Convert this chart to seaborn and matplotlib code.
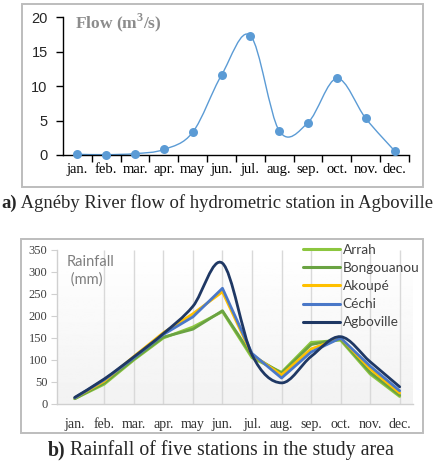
import numpy as np
import pandas as pd
import matplotlib
matplotlib.use("Agg")
import matplotlib.pyplot as plt
import seaborn as sns
from matplotlib.path import Path
from matplotlib.patches import PathPatch, Rectangle
from matplotlib.lines import Line2D

# data
months = ["jan.", "feb.", "mar.", "apr.", "may", "jun.", "jul.", "aug.", "sep.", "oct.", "nov.", "dec."]
flow = [0.1, 0.05, 0.2, 0.8, 3.3, 11.6, 17.3, 3.5, 4.7, 11.1, 5.3, 0.6]

stations = ["Arrah", "Bongouanou", "Akoupé", "Céchi", "Agboville"]
rain_arrah = [12, 45, 100, 150, 175, 210, 105, 72, 140, 145, 68, 17]
rain_bongouanou = [12, 48, 102, 152, 170, 212, 110, 70, 135, 148, 72, 20]
rain_akoupe = [14, 52, 108, 162, 205, 255, 112, 66, 125, 150, 80, 25]
rain_cechi = [14, 55, 105, 158, 198, 263, 115, 59, 118, 150, 86, 30]
rain_agboville = [15, 57, 107, 160, 222, 320, 112, 48, 108, 153, 96, 39]

station_colors = ["#8CC63F", "#6AA342", "#FFC000", "#4A78C8", "#1F3864"]

SERIF = "Liberation Serif"
SANS = "Lato"


def smooth_path(x, y):
    # Excel-like smoothed line: cubic bezier through every point
    n = len(x)
    verts = [(x[0], y[0])]
    codes = [Path.MOVETO]
    for i in range(n - 1):
        a = max(i - 1, 0)
        b = min(i + 2, n - 1)
        c1 = (x[i] + (x[i + 1] - x[a]) / 6, y[i] + (y[i + 1] - y[a]) / 6)
        c2 = (x[i + 1] - (x[b] - x[i]) / 6, y[i + 1] - (y[b] - y[i]) / 6)
        verts += [c1, c2, (x[i + 1], y[i + 1])]
        codes += [Path.CURVE4] * 3
    return Path(verts, codes)


def main():
    sns.set_theme(style="white")
    plt.rcParams["font.family"] = [SERIF, "DejaVu Sans"]

    W, H = 435, 475
    fig = plt.figure(figsize=(W / 100, H / 100), dpi=100)

    def fx(px):
        return px / W

    def fy(py):
        return 1 - py / H

    # panel frames
    for (x0, y0, x1, y1) in [(22, 4, 423, 187), (21, 239, 423, 433)]:
        fig.patches.append(Rectangle((fx(x0), fy(y1)), fx(x1 - x0), (y1 - y0) / H,
                                     transform=fig.transFigure, fill=False,
                                     edgecolor="#BDBDBD", linewidth=1.4))

    idx = np.arange(len(months))

    # ---------- a) flow ----------
    ax1 = fig.add_axes([fx(63), fy(155), fx(409 - 63), (155 - 17) / H])
    ax1.set_facecolor("none")
    blue = "#5B9BD5"
    ax1.add_patch(PathPatch(smooth_path(idx, np.array(flow)), fill=False,
                            edgecolor=blue, linewidth=1.0, zorder=2))
    sns.scatterplot(x=idx, y=flow, ax=ax1, color=blue, s=42, edgecolor=blue,
                    linewidth=0, zorder=3, clip_on=False)
    ax1.set_xlim(-0.5, 11.5)
    ax1.set_ylim(0, 20)
    ax1.set_yticks([0, 5, 10, 15, 20])
    ax1.set_yticklabels(["0", "5", "10", "15", "20"], family="Liberation Sans", fontsize=10.5)
    ax1.set_xticks(idx)
    ax1.set_xticklabels(months, fontsize=10.5, family=SERIF)
    ax1.set_xticks(np.arange(0.5, 12, 1), minor=True)
    ax1.tick_params(axis="x", which="major", length=0, pad=6, colors="black")
    ax1.tick_params(axis="x", which="minor", length=5, width=1, color="black", direction="out", bottom=True)
    ax1.tick_params(axis="y", length=5, width=1, color="black", direction="out", left=True, pad=6)
    for s in ["top", "right"]:
        ax1.spines[s].set_visible(False)
    for s in ["left", "bottom"]:
        ax1.spines[s].set_color("black")
        ax1.spines[s].set_linewidth(1.0)
    ax1.text(0.035, 0.955, "Flow (m$^\\mathregular{3}$/s)", transform=ax1.transAxes,
             fontsize=12.5, fontweight="bold", color="#8C8C8C", va="center", ha="left",
             family=SERIF)
    ax1.set_xlabel("")
    ax1.set_ylabel("")

    # ---------- b) rainfall ----------
    ax2 = fig.add_axes([fx(57), fy(404), fx(413 - 57), (404 - 250) / H])
    grad = np.linspace(1.0, 0.95, 100).reshape(-1, 1)
    ax2.imshow(grad, cmap="gray", vmin=0, vmax=1, aspect="auto",
               extent=[0, 1, 0, 1], transform=ax2.transAxes, zorder=0)
    ax2.vlines(idx[1:], 0, 350, color="#D9D9D9", linewidth=1.0, zorder=1)

    series = [rain_arrah, rain_bongouanou, rain_akoupe, rain_cechi, rain_agboville]
    df = pd.DataFrame({
        "month": np.tile(idx, 4),
        "rain": np.concatenate(series[:4]),
        "station": np.repeat(stations[:4], len(months)),
    })
    sns.lineplot(data=df, x="month", y="rain", hue="station", hue_order=stations[:4],
                 palette=station_colors[:4], linewidth=2.0, ax=ax2, legend=False,
                 sort=False, zorder=3)
    ax2.add_patch(PathPatch(smooth_path(idx, np.array(rain_agboville, dtype=float)),
                            fill=False, edgecolor=station_colors[4], linewidth=2.0,
                            capstyle="round", zorder=4))

    ax2.set_xlim(-0.6, 11.45)
    ax2.set_ylim(0, 350)
    ax2.set_yticks(np.arange(0, 351, 50))
    ax2.set_yticklabels([str(v) for v in range(0, 351, 50)], fontsize=9, color="#404040", family=SERIF)
    ax2.set_xticks(idx)
    ax2.set_xticklabels(months, fontsize=10, color="#333333", family=SERIF)
    ax2.tick_params(axis="x", length=0, pad=10)
    ax2.tick_params(axis="y", length=4, width=0.8, color="#D0D0D0", direction="out", left=True, pad=3)
    for s in ["top", "right"]:
        ax2.spines[s].set_visible(False)
    for s in ["left", "bottom"]:
        ax2.spines[s].set_color("#D0D0D0")
        ax2.spines[s].set_linewidth(1.0)
    ax2.set_xlabel("")
    ax2.set_ylabel("")
    ax2.text(0.028, 0.965, "Rainfall\n (mm)", transform=ax2.transAxes, fontsize=10.5,
             color="#7F7F7F", va="top", ha="left", family=SANS, linespacing=1.3)

    handles = [Line2D([0], [0], color=c, linewidth=2.2) for c in station_colors]
    ax2.legend(handles, stations, loc="upper left",
               bbox_to_anchor=((303 - 57) / 356, 1 + 6 / 154), frameon=False,
               prop={"family": SANS, "size": 9.8}, labelcolor="#404040",
               handlelength=2.7, handletextpad=0.2, labelspacing=0.45,
               borderpad=0, borderaxespad=0)

    # ---------- captions ----------
    fig.canvas.draw()
    r = fig.canvas.get_renderer()

    def caption(bold, rest, cx, cy, size):
        t1 = fig.text(0, fy(cy), bold, fontsize=size, fontweight="bold", family=SERIF, va="center")
        t2 = fig.text(0, fy(cy), rest, fontsize=size, family=SERIF, va="center")
        w1 = t1.get_window_extent(r).width
        w2 = t2.get_window_extent(r).width
        x0 = cx - (w1 + w2) / 2
        t1.set_x(fx(x0))
        t2.set_x(fx(x0 + w1))

    # the original caption a) runs past the page; shrunk a little so it stays whole
    caption("a)", " Agnéby River flow of hydrometric station in Agboville", 217.5, 203, 13.4)
    caption("b)", " Rainfall of five stations in the study area", 221, 450, 14.3)

    fig.savefig("out.png", dpi=100)
    plt.close(fig)


if __name__ == "__main__":
    main()
